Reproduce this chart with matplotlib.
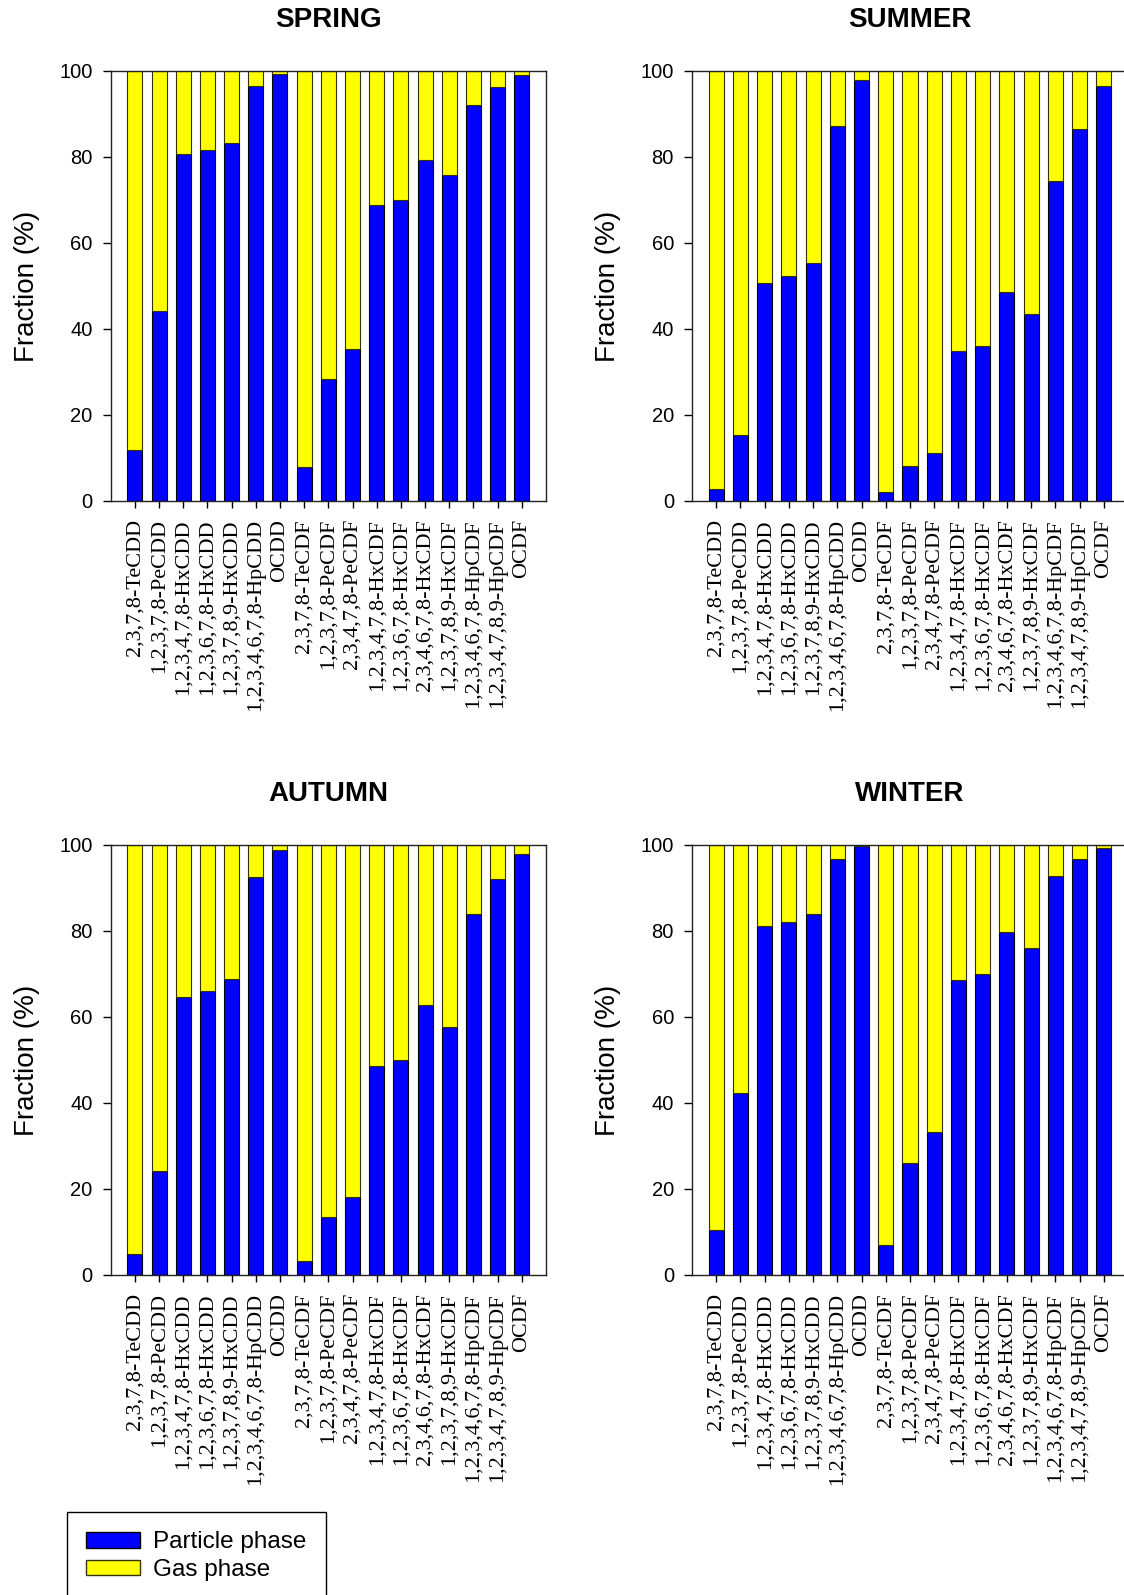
import numpy as np
import matplotlib
matplotlib.use("Agg")
import matplotlib.pyplot as plt
from matplotlib.patches import Patch

# congener names (x axis)
congeners = ["2,3,7,8-TeCDD", "1,2,3,7,8-PeCDD", "1,2,3,4,7,8-HxCDD",
             "1,2,3,6,7,8-HxCDD", "1,2,3,7,8,9-HxCDD", "1,2,3,4,6,7,8-HpCDD",
             "OCDD", "2,3,7,8-TeCDF", "1,2,3,7,8-PeCDF", "2,3,4,7,8-PeCDF",
             "1,2,3,4,7,8-HxCDF", "1,2,3,6,7,8-HxCDF", "2,3,4,6,7,8-HxCDF",
             "1,2,3,7,8,9-HxCDF", "1,2,3,4,6,7,8-HpCDF", "1,2,3,4,7,8,9-HpCDF",
             "OCDF"]

# particle phase fraction (%) per season, gas phase is the rest
spring = [11.9, 44.1, 80.6, 81.6, 83.3, 96.5, 99.4, 8.0, 28.4, 35.4,
          68.8, 70.0, 79.3, 75.9, 92.1, 96.3, 99.1]
summer = [2.9, 15.4, 50.8, 52.3, 55.3, 87.3, 97.8, 2.0, 8.2, 11.2,
          34.9, 36.1, 48.7, 43.4, 74.5, 86.5, 96.5]
autumn = [5.0, 24.3, 64.6, 66.1, 68.8, 92.6, 98.8, 3.3, 13.6, 18.1,
          48.6, 50.0, 62.8, 57.6, 84.0, 92.2, 98.0]
winter = [10.4, 42.3, 81.1, 82.1, 83.9, 96.8, 99.7, 6.9, 26.1, 33.3,
          68.7, 69.9, 79.8, 76.0, 92.7, 96.7, 99.3]

seasons = ["SPRING", "SUMMER", "AUTUMN", "WINTER"]
particle = [spring, summer, autumn, winter]

W, H = 1124, 1595
fig = plt.figure(figsize=(W / 100, H / 100), dpi=100)
plt.rcParams['font.family'] = ['Liberation Sans', 'DejaVu Sans']

# axes boxes in pixels: left, top, right, bottom
boxes = [(110.7, 71, 546, 501), (692, 71, 1128, 501),
         (110.7, 845, 546, 1275), (692, 845, 1128, 1275)]

x = np.arange(len(congeners))
for season, part, (l, t, r, b) in zip(seasons, particle, boxes):
    ax = fig.add_axes([l / W, 1 - b / H, (r - l) / W, (b - t) / H])
    part = np.array(part)
    gas = 100 - part
    ax.bar(x, part, width=0.62, color='#0000ff', edgecolor='black', linewidth=0.8)
    ax.bar(x, gas, width=0.62, bottom=part, color='#ffff00', edgecolor='#333300', linewidth=0.8)
    ax.set_xlim(-1, len(congeners))
    ax.set_ylim(0, 100)
    ax.set_yticks([0, 20, 40, 60, 80, 100])
    ax.tick_params(axis='y', labelsize=14.5, length=6, width=1, pad=7, direction='out')
    ax.set_xticks(x)
    ax.set_xticklabels(congeners, rotation=90, ha='center', va='top',
                       family='Liberation Serif', fontsize=16)
    ax.tick_params(axis='x', length=5, width=1, pad=8, direction='out')
    for s in ax.spines.values():
        s.set_linewidth(1.0)
        s.set_color('#222222')
    ax.set_ylabel("Fraction (%)", fontsize=20, labelpad=14)
    ax.set_title(season, fontsize=20, fontweight='bold', pad=32)

handles = [Patch(facecolor='#0000ff', edgecolor='black', label='Particle phase'),
           Patch(facecolor='#ffff00', edgecolor='#333300', label='Gas phase')]
leg = fig.legend(handles=handles, loc='upper left', bbox_to_anchor=(67 / W, 1 - 1512 / H),
                 fontsize=17.5, frameon=True, fancybox=False, framealpha=1,
                 handlelength=2.2, handleheight=0.6, handletextpad=0.55,
                 labelspacing=0.22, borderpad=0.8, borderaxespad=0)
leg.get_frame().set_edgecolor('black')
leg.get_frame().set_linewidth(1.0)

fig.savefig("out.png", dpi=100)
